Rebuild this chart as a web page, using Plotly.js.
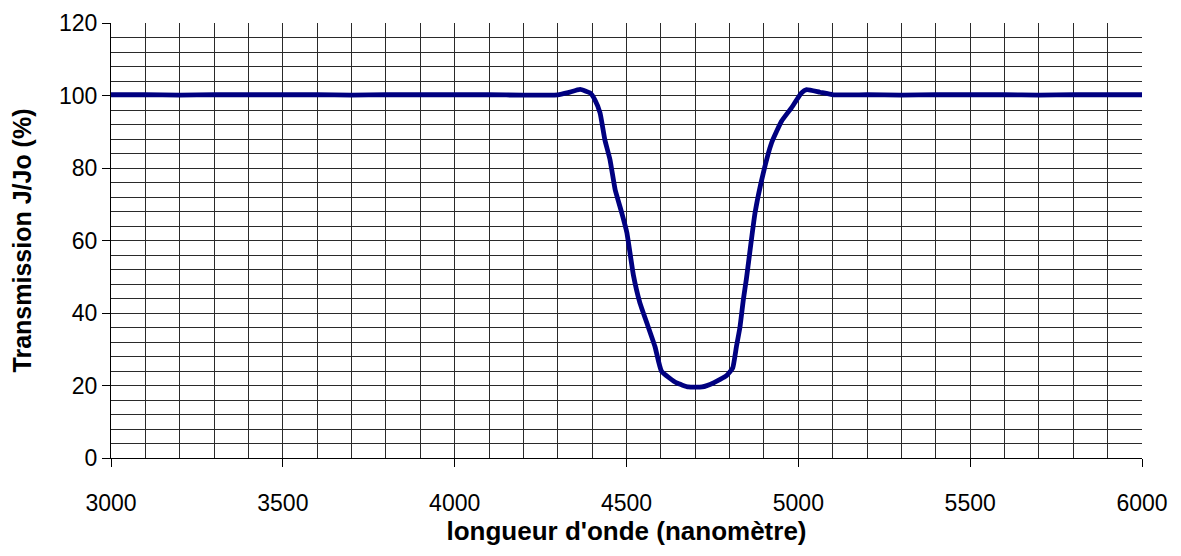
<!DOCTYPE html>
<html>
<head>
<meta charset="utf-8">
<script src="https://cdn.plot.ly/plotly-3.0.1.min.js"></script>
<style>html,body{margin:0;padding:0;background:#fff;}#chart{width:1181px;height:556px;}</style>
</head>
<body>
<div id="chart"></div>
<script>
const wavelength = [3000, 3100, 3200, 3300, 3400, 3500, 3600, 3700, 3800, 3900, 4000, 4100, 4200, 4300,
  4330, 4365, 4394, 4408, 4423, 4437, 4452, 4467, 4486, 4501, 4520, 4539, 4559, 4583, 4602, 4646, 4680,
  4720, 4753, 4791, 4809, 4820, 4830, 4840, 4849, 4874, 4898, 4922, 4951, 4980, 5009, 5024, 5063, 5102,
  5200, 5300, 5400, 5500, 5600, 5700, 5800, 5900, 6000];
const transmission = [100.2, 100.2, 100.1, 100.2, 100.2, 100.2, 100.2, 100.1, 100.2, 100.2, 100.2, 100.2, 100.1, 100.2,
  100.8, 101.7, 100.7, 98.8, 95.2, 87.8, 82.3, 74.0, 67.7, 62.2, 50.5, 42.8, 37.3, 30.7, 23.9, 20.7, 19.6,
  19.6, 20.7, 22.7, 24.8, 30.8, 36.0, 43.7, 49.5, 67.6, 78.6, 86.9, 92.9, 96.6, 100.7, 101.6, 100.9, 100.2,
  100.2, 100.1, 100.2, 100.2, 100.2, 100.1, 100.2, 100.2, 100.2];
const xTicks = [3000, 3500, 4000, 4500, 5000, 5500, 6000];
const yTicks = [0, 20, 40, 60, 80, 100, 120];

const gridColor = '#2a2a2a';
const fam = '"Liberation Sans", Arial, sans-serif';
const trace = {
  x: wavelength, y: transmission, type: 'scatter', mode: 'lines',
  line: {color: '#000080', width: 4.8, shape: 'spline', smoothing: 0.4},
  hoverinfo: 'x+y'
};
const layout = {
  width: 1181, height: 556,
  margin: {l: 111, r: 39, t: 23, b: 98},
  paper_bgcolor: '#ffffff', plot_bgcolor: '#ffffff',
  showlegend: false,
  font: {family: fam, color: '#000', size: 23},
  xaxis: {
    range: [3000, 6000], tickvals: xTicks, ticktext: xTicks.map(String),
    showgrid: true, gridcolor: gridColor, gridwidth: 1,
    minor: {dtick: 100, tick0: 3000, showgrid: true, gridcolor: gridColor, gridwidth: 1, ticks: ''},
    ticks: 'outside', ticklen: 8, tickcolor: '#000', tickwidth: 1,
    ticklabelstandoff: 16,
    showline: true, linecolor: '#000', linewidth: 1, mirror: false,
    zeroline: false, tickfont: {size: 23, family: fam},
    title: {text: "longueur d'onde (nanomètre)", font: {size: 26, family: fam, weight: 'bold'}, standoff: 6}
  },
  yaxis: {
    range: [0, 120], tickvals: yTicks, ticktext: yTicks.map(String),
    showgrid: true, gridcolor: gridColor, gridwidth: 1,
    minor: {dtick: 4, tick0: 0, showgrid: true, gridcolor: gridColor, gridwidth: 1, ticks: ''},
    ticks: 'outside', ticklen: 8, tickcolor: '#000', tickwidth: 1,
    showline: true, linecolor: '#000', linewidth: 1,
    zeroline: false, tickfont: {size: 23, family: fam},
    title: {text: 'Transmission J/Jo (%)', font: {size: 25, family: fam, weight: 'bold'}, standoff: 20}
  }
};
Plotly.newPlot('chart', [trace], layout, {displayModeBar: false, staticPlot: true});
</script>
</body>
</html>
